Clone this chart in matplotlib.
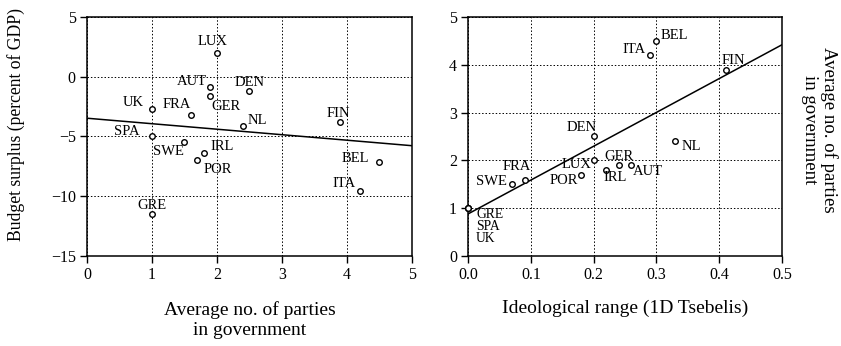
import matplotlib
matplotlib.use("Agg")
import matplotlib.pyplot as plt

plt.rcParams['font.family'] = ['Liberation Serif', 'DejaVu Serif']

countries = ['LUX', 'AUT', 'GER', 'DEN', 'UK', 'FRA', 'NL', 'FIN',
             'SPA', 'SWE', 'IRL', 'POR', 'BEL', 'ITA', 'GRE']
parties = [2.0, 1.9, 1.9, 2.5, 1.0, 1.6, 2.4, 3.9,
           1.0, 1.5, 1.8, 1.7, 4.5, 4.2, 1.0]
surplus = [2.0, -0.9, -1.6, -1.2, -2.7, -3.2, -4.1, -3.8,
           -5.0, -5.5, -6.4, -7.0, -7.1, -9.6, -11.5]
ideology = [0.20, 0.26, 0.24, 0.20, 0.0, 0.09, 0.33, 0.41,
            0.0, 0.07, 0.22, 0.18, 0.30, 0.29, 0.0]

# fitted lines (intercept, slope)
fit_left = (-3.47, -0.46)
fit_right = (0.88, 7.08)

# label offsets in pixels (dx, dy)
off_left = {'LUX': (-4, 11), 'AUT': (-19, 6), 'GER': (15, -11), 'DEN': (0, 9),
            'UK': (-19, 7), 'FRA': (-14, 10), 'NL': (14, 5), 'FIN': (-2, 9),
            'SPA': (-25, 5), 'SWE': (-16, -9), 'IRL': (18, 7), 'POR': (20, -9),
            'BEL': (-24, 3), 'ITA': (-16, 8), 'GRE': (0, 9)}
off_right = {'LUX': (-17, -4), 'AUT': (17, -6), 'GER': (0, 9), 'DEN': (-12, 9),
             'UK': (8, -30), 'FRA': (-8, 13), 'NL': (16, -5), 'FIN': (8, 9),
             'SPA': (8, -18), 'SWE': (-21, 3), 'IRL': (9, -8), 'POR': (-17, -6),
             'BEL': (18, 5), 'ITA': (-16, 6), 'GRE': (8, -6)}
# the three countries stacked at the origin are left aligned
stacked = ['GRE', 'SPA', 'UK']

fig = plt.figure(figsize=(8.41, 3.46), dpi=100)
ax1 = fig.add_axes([0.1034, 0.2601, 0.3864, 0.6908])
ax2 = fig.add_axes([0.5565, 0.2601, 0.3734, 0.6908])


def style(ax):
    for s in ax.spines.values():
        s.set_linewidth(1.1)
    ax.tick_params(direction='out', length=5, width=1.0, labelsize=11.5,
                   pad=3)
    ax.grid(True, linestyle=(0, (1.5, 2)), color='black', linewidth=0.7)
    ax.set_axisbelow(True)


ax1.plot([0, 5], [fit_left[0], fit_left[0] + 5 * fit_left[1]],
         color='black', lw=1.1)
ax1.plot(parties, surplus, 'o', mfc='white', mec='black', ms=4, mew=1.0,
         zorder=3)
for c, x, y in zip(countries, parties, surplus):
    ax1.annotate(c, (x, y), xytext=off_left[c], textcoords='offset pixels',
                 ha='center', va='center', fontsize=10.5)
ax1.set_xlim(0, 5)
ax1.set_ylim(-15, 5)
ax1.set_xticks([0, 1, 2, 3, 4, 5])
ax1.set_yticks([-15, -10, -5, 0, 5])
ax1.set_yticklabels(['\u221215', '\u221210', '\u22125', '0', '5'])
style(ax1)
ax1.set_xlabel('Average no. of parties\nin government', fontsize=14,
               labelpad=13, linespacing=1.25)
ax1.set_ylabel('Budget surplus (percent of GDP)', fontsize=12.7)
ax1.yaxis.set_label_coords(-0.19, 0.552)

ax2.plot([0, 0.5], [fit_right[0], fit_right[0] + 0.5 * fit_right[1]],
         color='black', lw=1.1)
ax2.plot(ideology, parties, 'o', mfc='white', mec='black', ms=4, mew=1.0,
         zorder=3, clip_on=False)
for c, x, y in zip(countries, ideology, parties):
    if c in stacked:
        ax2.annotate(c, (x, y), xytext=off_right[c],
                     textcoords='offset pixels', ha='left', va='center',
                     fontsize=9.8)
    else:
        ax2.annotate(c, (x, y), xytext=off_right[c],
                     textcoords='offset pixels', ha='center', va='center',
                     fontsize=10.5)
ax2.set_xlim(0, 0.5)
ax2.set_ylim(0, 5)
ax2.set_xticks([0.0, 0.1, 0.2, 0.3, 0.4, 0.5])
ax2.set_xticklabels(['0.0', '0.1', '0.2', '0.3', '0.4', '0.5'])
ax2.set_yticks([0, 1, 2, 3, 4, 5])
style(ax2)
ax2.set_xlabel('Ideological range (1D Tsebelis)', fontsize=14, labelpad=12)
ax2.yaxis.set_label_position('right')
ax2.set_ylabel('Average no. of parties\nin government', fontsize=13.5,
               rotation=270, linespacing=1.15)
ax2.yaxis.set_label_coords(1.178, 0.527)

fig.savefig('out.png', dpi=100)
